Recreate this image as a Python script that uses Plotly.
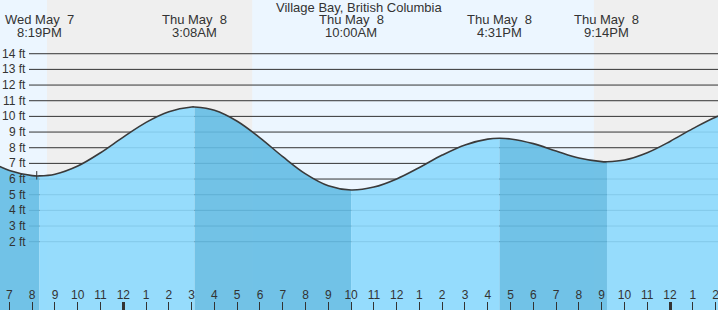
import plotly.graph_objects as go

# ---------------- data ----------------
# hours relative to Thu May 8 00:00
times = [-6, -5, -4, -3.683, -3, -2, -1, 0, 1, 2, 3, 3.133, 4, 5, 6, 7, 8, 9, 10,
         11, 12, 13, 14, 15, 16, 16.517, 17, 18, 19, 20, 21, 21.233, 22, 23, 24,
         25, 26, 27]
heights = [7.21, 6.55, 6.22, 6.2, 6.31, 6.83, 7.68, 8.68, 9.62, 10.30, 10.60, 10.6,
           10.39, 9.69, 8.63, 7.43, 6.33, 5.57, 5.3, 5.49, 6.01, 6.74, 7.53, 8.18,
           8.55, 8.6, 8.56, 8.26, 7.79, 7.34, 7.11, 7.1, 7.21, 7.68, 8.40, 9.22,
           9.95, 10.43]

event_times = [-3.683, 3.133, 10.0, 16.517, 21.233]
event_dates = ["Wed May\u00a0 7", "Thu May\u00a0 8", "Thu May\u00a0 8", "Thu May\u00a0 8", "Thu May\u00a0 8"]
event_clock = ["8:19PM", "3:08AM", "10:00AM", "4:31PM", "9:14PM"]

sun_times = [-3.35, 5.67, 20.66]          # sunset, sunrise, sunset
hour_ticks = list(range(-5, 27))
hour_labels = [str((h + 11) % 12 + 1) for h in hour_ticks]
midnights = [0, 24]
ft_levels = list(range(2, 15))
ft_labels = [f"{v} ft" for v in ft_levels]
now_time = -3.8
now_height = 6.24

title = "Village Bay, British Columbia"

# ---------------- style ----------------
X_RANGE = [-5.413, 26.107]
Y_RANGE = [-2.36, 17.43]
W, H = 718, 310
DAY = "#ecf6ff"
NIGHT = "#efefef"
WATER_LIGHT = "rgba(140,217,253,0.9)"
WATER_DARK = "rgba(100,188,228,0.9)"
INK = "#333333"
FONT = "Liberation Sans, Arial, sans-serif"

fig = go.Figure()

# water fill, split at tide events (alternating shades)
bounds = [times[0]] + event_times + [times[-1]]
for i in range(len(bounds) - 1):
    a, b = bounds[i], bounds[i + 1]
    xs = [t for t in times if a <= t <= b]
    ys = [heights[times.index(t)] for t in xs]
    color = WATER_DARK if i % 2 == 0 else WATER_LIGHT
    fig.add_trace(go.Scatter(x=xs, y=[Y_RANGE[0] - 1] * len(xs), mode="lines",
                             line=dict(width=0), hoverinfo="skip", showlegend=False))
    fig.add_trace(go.Scatter(x=xs, y=ys, mode="lines", fill="tonexty",
                             fillcolor=color, line=dict(width=0, shape="spline"),
                             hoverinfo="skip", showlegend=False))

# tide curve outline
fig.add_trace(go.Scatter(x=times, y=heights, mode="lines",
                         line=dict(color="#3a3a3a", width=1.6, shape="spline"),
                         hoverinfo="skip", showlegend=False))

shapes = []
# day / night background
edges = [X_RANGE[0] - 1] + sun_times + [X_RANGE[1] + 1]
for i in range(len(edges) - 1):
    shapes.append(dict(type="rect", xref="x", yref="paper", x0=edges[i], x1=edges[i + 1],
                       y0=0, y1=1, fillcolor=DAY if i % 2 == 0 else NIGHT,
                       line=dict(width=0), layer="below"))
# horizontal level lines
for v in ft_levels:
    shapes.append(dict(type="line", xref="paper", yref="y", x0=29 / W, x1=1, y0=v, y1=v,
                       line=dict(color=INK, width=1), layer="below"))
# current time marker
shapes.append(dict(type="line", xref="x", yref="y", x0=now_time, x1=now_time,
                   y0=now_height - 0.27, y1=now_height + 0.27,
                   line=dict(color=INK, width=1)))

annotations = []
annotations.append(dict(text=title, xref="paper", yref="paper", x=0.5, y=1,
                        xanchor="center", yanchor="top", showarrow=False, yshift=2,
                        font=dict(family=FONT, size=13, color=INK)))
for t, d, c in zip(event_times, event_dates, event_clock):
    annotations.append(dict(text=d, xref="x", yref="paper", x=t, y=1 - 20 / H,
                            xanchor="center", yanchor="middle", showarrow=False,
                            font=dict(family=FONT, size=13, color=INK)))
    annotations.append(dict(text=c, xref="x", yref="paper", x=t, y=1 - 32 / H,
                            xanchor="center", yanchor="middle", showarrow=False,
                            font=dict(family=FONT, size=13, color=INK)))
for v, lab in zip(ft_levels, ft_labels):
    annotations.append(dict(text=lab, xref="paper", yref="y", x=28 / W, y=v,
                            xanchor="right", yanchor="middle", showarrow=False,
                            font=dict(family=FONT, size=12, color=INK)))

fig.update_layout(
    width=W, height=H, margin=dict(l=0, r=0, t=0, b=0),
    paper_bgcolor=DAY, plot_bgcolor=DAY,
    shapes=shapes, annotations=annotations, showlegend=False,
    xaxis=dict(range=X_RANGE, showgrid=False, zeroline=False, showline=False,
               tickmode="array", tickvals=hour_ticks, ticktext=hour_labels,
               ticks="inside", ticklen=8, tickwidth=1, tickcolor=INK,
               ticklabelposition="inside", ticklabeloverflow="allow",
               tickfont=dict(family=FONT, size=12, color=INK)),
    xaxis2=dict(range=X_RANGE, overlaying="x", side="bottom", showgrid=False,
                zeroline=False, showline=False, tickmode="array", tickvals=midnights,
                ticks="inside", ticklen=8, tickwidth=3, tickcolor=INK,
                showticklabels=False),
    yaxis=dict(range=Y_RANGE, visible=False, showgrid=False, zeroline=False),
)
# dummy trace to activate xaxis2
fig.add_trace(go.Scatter(x=[X_RANGE[0]], y=[Y_RANGE[0] - 5], xaxis="x2", mode="markers",
                         marker=dict(size=0), hoverinfo="skip", showlegend=False))

fig.write_html("out.html")
